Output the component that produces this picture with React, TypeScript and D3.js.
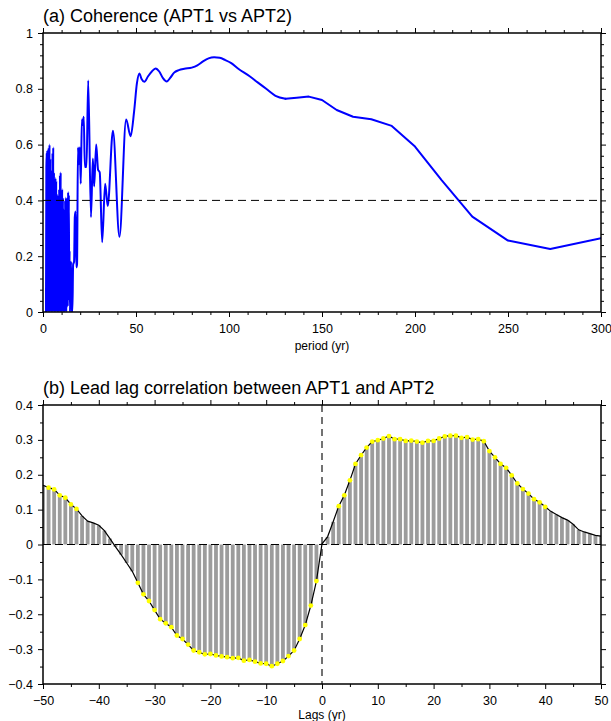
import React, { useRef, useEffect } from "react";
import * as d3 from "d3";

// (a) coherence: period (yr) and coherence
const cohPeriod = [
  1.6, 1.8, 2.0, 2.1, 2.3, 2.5, 2.7, 2.9, 3.1, 3.3, 3.5, 3.7, 3.9, 4.1, 4.3, 4.5, 4.7, 4.9,
  5.1, 5.3, 5.5, 5.7, 5.9, 6.1, 6.3, 6.5, 6.7, 6.9, 7.1, 7.3, 7.5, 7.7, 7.9, 8.1, 8.3, 8.5,
  8.7, 8.9, 9.1, 9.3, 9.5, 9.7, 9.9, 10.1, 10.3, 10.5, 10.7, 10.9, 11.1, 11.3, 11.5, 11.7,
  11.9, 12.1, 12.3, 12.5, 12.7, 12.9, 13.1, 13.3, 13.5, 13.7, 13.9, 14.1, 14.3, 14.5, 14.8,
  15.1, 15.4, 15.8, 16.2, 16.7, 17.1, 17.5, 17.9, 18.3, 18.8, 19.3, 19.8, 20.3, 20.9, 21.4,
  21.9, 22.5, 23.4, 24.3, 25.8, 26.8, 27.5, 28.6, 29.6, 30.5, 31.8, 33.4, 34.8, 37.6, 41.1,
  44.7, 47.1, 49.0, 50.5, 51.8, 53.0, 54.5, 56.5, 58.5, 60.5, 62.5, 64.5, 66.5, 68.5, 70.5,
  73.0, 76.0, 80.0, 83.0, 86.0, 89.0, 92.0, 95.0, 98.0, 101.0, 105.0, 111.1, 115.4, 120.0,
  125.0, 130.4, 136.4, 142.9, 150.0, 157.9, 166.7, 176.5, 187.5, 200.0, 214.3, 230.8, 250.0,
  272.7, 300.0,
];
const cohValue = [
  0.0, 0.52, 0.57, 0.0, 0.58, 0.08, 0.58, 0.0, 0.59, 0.15, 0.6, 0.0, 0.55, 0.05, 0.51, 0.0, 0.44, 0.1,
  0.57, 0.0, 0.59, 0.12, 0.5, 0.0, 0.43, 0.05, 0.48, 0.0, 0.47, 0.08, 0.39, 0.0, 0.42, 0.03, 0.36, 0.0,
  0.44, 0.1, 0.49, 0.0, 0.5, 0.05, 0.39, 0.0, 0.44, 0.08, 0.41, 0.0, 0.37, 0.04, 0.32, 0.0,
  0.4, 0.05, 0.41, 0.0, 0.38, 0.07, 0.41, 0.02, 0.43, 0.1, 0.42, 0.04, 0.22, 0.0, 0.12,
  0.18, 0.0, 0.0, 0.17, 0.18, 0.34, 0.36, 0.16, 0.17, 0.59, 0.53, 0.59, 0.46, 0.69, 0.67,
  0.7, 0.52, 0.52, 0.83, 0.34, 0.55, 0.45, 0.6, 0.51, 0.5, 0.25, 0.46, 0.38, 0.65, 0.27,
  0.69, 0.63, 0.72, 0.82, 0.855, 0.835, 0.825, 0.845, 0.862, 0.873, 0.862, 0.838, 0.826, 0.84, 0.858,
  0.867, 0.872, 0.876, 0.884, 0.898, 0.909, 0.913, 0.911, 0.903, 0.893, 0.872, 0.845, 0.823, 0.8,
  0.775, 0.764, 0.768, 0.772, 0.76, 0.724, 0.7, 0.691, 0.667, 0.593, 0.473, 0.342, 0.256,
  0.226, 0.264,
];
const cohLevel = 0.4;
// past this period the coherence estimates are far apart and joined by straight segments
const cohSparseFrom = 130.4;
const periodTicks = [0, 50, 100, 150, 200, 250, 300];
const cohTicks = [0, 0.2, 0.4, 0.6, 0.8, 1];

// (b) lead-lag correlation
const lags = [
  -50, -49, -48, -47, -46, -45, -44, -43, -42, -41, -40, -39, -38, -37, -36, -35, -34,
  -33, -32, -31, -30, -29, -28, -27, -26, -25, -24, -23, -22, -21, -20, -19, -18, -17,
  -16, -15, -14, -13, -12, -11, -10, -9, -8, -7, -6, -5, -4, -3, -2, -1, 0,
  1, 2, 3, 4, 5, 6, 7, 8, 9, 10, 11, 12, 13, 14, 15, 16, 17, 18, 19, 20, 21, 22, 23, 24, 25,
  26, 27, 28, 29, 30, 31, 32, 33, 34, 35, 36, 37, 38, 39, 40, 41, 42, 43, 44, 45, 46, 47, 48, 49, 50,
];
const corrValue = [
  0.17, 0.163, 0.158, 0.141, 0.134, 0.115, 0.102, 0.082, 0.067, 0.062, 0.055, 0.04, 0.017, -0.007, -0.029, -0.053, -0.077,
  -0.11, -0.143, -0.162, -0.188, -0.214, -0.226, -0.237, -0.261, -0.271, -0.287, -0.304, -0.309, -0.315, -0.314, -0.318, -0.321, -0.323,
  -0.326, -0.325, -0.333, -0.331, -0.336, -0.341, -0.342, -0.349, -0.342, -0.334, -0.32, -0.304, -0.271, -0.231, -0.175, -0.105, 0.002,
  0.022, 0.065, 0.11, 0.141, 0.184, 0.231, 0.256, 0.278, 0.295, 0.299, 0.304, 0.311, 0.302, 0.302, 0.297, 0.298, 0.295, 0.292, 0.297, 0.297, 0.304, 0.31, 0.312, 0.312, 0.306,
  0.308, 0.301, 0.302, 0.296, 0.268, 0.25, 0.231, 0.22, 0.198, 0.175, 0.159, 0.146, 0.13, 0.121, 0.108, 0.095, 0.086, 0.077, 0.07, 0.058, 0.042, 0.036, 0.031, 0.026, 0.024,
];
const sigLags = [
  -49, -48, -47, -46, -45, -44,
  -33, -32, -31, -30, -29, -28, -27, -26, -25, -24, -23, -22, -21, -20, -19, -18, -17,
  -16, -15, -14, -13, -12, -11, -10, -9, -8, -7, -6, -5, -4, -3, -2, -1,
  3, 4, 5, 6, 7, 8, 9, 10, 11, 12, 13, 14, 15, 16, 17, 18, 19, 20, 21, 22, 23, 24, 25,
  26, 27, 28, 29, 30, 31, 32, 33, 34, 35, 36, 37, 38, 39, 40,
];
const lagTicks = [-50, -40, -30, -20, -10, 0, 10, 20, 30, 40, 50];
const corrTicks = [-0.4, -0.3, -0.2, -0.1, 0, 0.1, 0.2, 0.3, 0.4];

const FONT = "'Liberation Sans', Arial, Helvetica, sans-serif";

const drawFrame = (g, x, y, w, h, xMajor, xMinor, yMajor, yMinor) => {
  const fmt = d3.format("~g");
  const styleAxis = (sel) => {
    sel.select(".domain").remove();
    sel.selectAll("line").attr("stroke", "#000").attr("stroke-width", 1);
    sel.selectAll("text")
      .attr("fill", "#000")
      .attr("font-size", 12.5)
      .attr("font-family", FONT);
  };
  const add = (axis, tr) => g.append("g").attr("transform", tr).call(axis).call(styleAxis);

  add(d3.axisBottom(x).tickValues(xMajor).tickSize(5).tickPadding(7.5).tickFormat(fmt), `translate(0,${h})`);
  add(d3.axisBottom(x).tickValues(xMinor).tickSize(3).tickFormat(() => ""), `translate(0,${h})`);
  add(d3.axisTop(x).tickValues(xMajor).tickSize(5).tickFormat(() => ""), "translate(0,0)");
  add(d3.axisTop(x).tickValues(xMinor).tickSize(3).tickFormat(() => ""), "translate(0,0)");
  add(d3.axisLeft(y).tickValues(yMajor).tickSize(5).tickPadding(5).tickFormat(fmt), "translate(0,0)");
  add(d3.axisLeft(y).tickValues(yMinor).tickSize(3).tickFormat(() => ""), "translate(0,0)");
  add(d3.axisRight(y).tickValues(yMajor).tickSize(5).tickFormat(() => ""), `translate(${w},0)`);
  add(d3.axisRight(y).tickValues(yMinor).tickSize(3).tickFormat(() => ""), `translate(${w},0)`);

  g.append("rect")
    .attr("width", w)
    .attr("height", h)
    .attr("fill", "none")
    .attr("stroke", "#000")
    .attr("stroke-width", 1.5);
};

const App = () => {
  const svgRef = useRef(null);

  useEffect(() => {
    const svg = d3.select(svgRef.current);
    svg.selectAll("*").remove();

    const left = 43, right = 601;
    const w = right - left;

    // ---------- panel (a) ----------
    const topA = 33, h = 279;
    const xA = d3.scaleLinear().domain([0, 300]).range([0, w]);
    const yA = d3.scaleLinear().domain([0, 1]).range([h, 0]);
    const gA = svg.append("g").attr("transform", `translate(${left},${topA})`);

    svg.append("defs").append("clipPath").attr("id", "clipA")
      .append("rect").attr("width", w).attr("height", h);

    const pts = cohPeriod.map((p, i) => [p, cohValue[i]]);
    const dense = pts.filter((d) => d[0] <= cohSparseFrom);
    const sparse = pts.filter((d) => d[0] >= cohSparseFrom);

    const smoothLine = d3.line().x((d) => xA(d[0])).y((d) => yA(d[1])).curve(d3.curveMonotoneX);
    const straightLine = d3.line().x((d) => xA(d[0])).y((d) => yA(d[1]));

    const blue = gA.append("g").attr("clip-path", "url(#clipA)");
    [smoothLine(dense), straightLine(sparse)].forEach((dPath) => {
      blue.append("path")
        .attr("d", dPath)
        .attr("fill", "none")
        .attr("stroke", "#0000ff")
        .attr("stroke-width", 2)
        .attr("stroke-linejoin", "round")
        .attr("stroke-linecap", "round");
    });

    gA.append("line")
      .attr("x1", 0).attr("x2", w)
      .attr("y1", yA(cohLevel)).attr("y2", yA(cohLevel))
      .attr("stroke", "#000")
      .attr("stroke-width", 1)
      .attr("stroke-dasharray", "8,5");

    drawFrame(gA, xA, yA, w, h, periodTicks, d3.range(10, 300, 10).filter((v) => v % 50 !== 0),
      cohTicks, d3.range(0.04, 1, 0.04).filter((v) => Math.abs(v / 0.2 - Math.round(v / 0.2)) > 0.01));

    gA.append("text")
      .attr("x", 0).attr("y", 22 - topA)
      .attr("font-size", 18).attr("font-family", FONT)
      .text("(a) Coherence (APT1 vs APT2)");

    gA.append("text")
      .attr("x", w / 2).attr("y", h + 38)
      .attr("text-anchor", "middle")
      .attr("font-size", 12).attr("font-family", FONT)
      .text("period (yr)");

    // ---------- panel (b) ----------
    const topB = 405;
    const xB = d3.scaleLinear().domain([-50, 50]).range([0, w]);
    const yB = d3.scaleLinear().domain([-0.4, 0.4]).range([h, 0]);
    const gB = svg.append("g").attr("transform", `translate(${left},${topB})`);

    svg.select("defs").append("clipPath").attr("id", "clipB")
      .append("rect").attr("width", w).attr("height", h);

    const bars = gB.append("g").attr("clip-path", "url(#clipB)");
    bars.selectAll("rect")
      .data(corrValue)
      .join("rect")
      .attr("x", (d, i) => xB(lags[i]) - 1.9)
      .attr("width", 3.8)
      .attr("y", (d) => Math.min(yB(d), yB(0)))
      .attr("height", (d) => Math.abs(yB(d) - yB(0)))
      .attr("fill", "#9c9c9c");

    gB.append("line")
      .attr("x1", 0).attr("x2", w)
      .attr("y1", yB(0)).attr("y2", yB(0))
      .attr("stroke", "#000")
      .attr("stroke-width", 1.2)
      .attr("stroke-dasharray", "8,4");

    gB.append("line")
      .attr("x1", xB(0)).attr("x2", xB(0))
      .attr("y1", 0).attr("y2", h)
      .attr("stroke", "#444")
      .attr("stroke-width", 1.5)
      .attr("stroke-dasharray", "7,5");

    const corrLine = d3.line()
      .x((d, i) => xB(lags[i]))
      .y((d) => yB(d));

    gB.append("path")
      .attr("d", corrLine(corrValue))
      .attr("fill", "none")
      .attr("stroke", "#000")
      .attr("stroke-width", 1.2);

    gB.append("g")
      .selectAll("circle")
      .data(sigLags)
      .join("circle")
      .attr("cx", (d) => xB(d))
      .attr("cy", (d) => yB(corrValue[lags.indexOf(d)]))
      .attr("r", 2.4)
      .attr("fill", "#ffff00");

    drawFrame(gB, xB, yB, w, h, lagTicks, d3.range(-45, 50, 10),
      corrTicks, d3.range(-0.35, 0.4, 0.1));

    gB.append("text")
      .attr("x", 0).attr("y", 394 - topB)
      .attr("font-size", 18).attr("font-family", FONT)
      .text("(b) Lead lag correlation between APT1 and APT2");

    gB.append("text")
      .attr("x", w / 2).attr("y", 719 - topB)
      .attr("text-anchor", "middle")
      .attr("font-size", 12).attr("font-family", FONT)
      .text("Lags (yr)");
  }, []);

  return (
    <svg
      ref={svgRef}
      width={611}
      height={721}
      style={{ position: "absolute", left: 0, top: 0, background: "#fff" }}
    />
  );
};

export default App;
